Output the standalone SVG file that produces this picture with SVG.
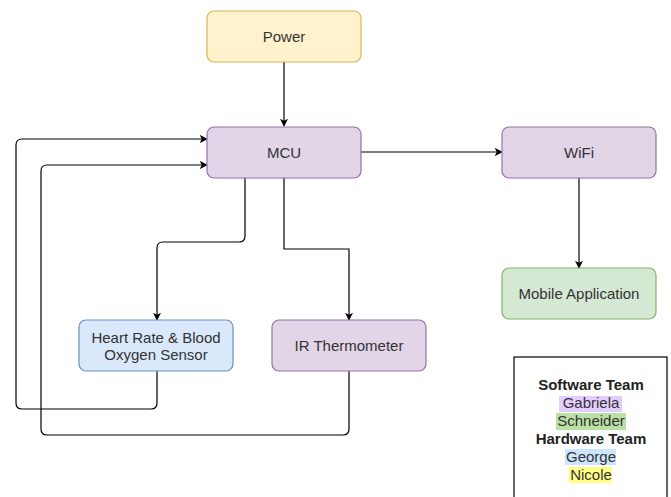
<svg xmlns="http://www.w3.org/2000/svg" width="671" height="497" viewBox="0 0 671 497">
  <style>
    .node rect { stroke-width: 1.2; }
    .yellow { fill: #fff2cc; stroke: #d6b656; }
    .purple { fill: #e1d5e7; stroke: #9673a6; }
    .blue { fill: #dae8fc; stroke: #6c8ebf; }
    .green { fill: #d5e8d4; stroke: #82b366; }
    text { font-family: "Liberation Sans", Arial, sans-serif; font-size: 15px; fill: #333333; text-anchor: middle; }
    .edge { fill: none; stroke: #000000; stroke-width: 1.2; marker-end: url(#arrow); }
    .legend-title { font-weight: bold; fill: #222222; }
  </style>
  <defs>
    <marker id="arrow" viewBox="0 0 10 10" refX="9" refY="5" markerWidth="8" markerHeight="8" markerUnits="userSpaceOnUse" orient="auto">
      <path d="M0,0 L10,5 L0,10 L2.5,5 Z" fill="#000000"/>
    </marker>
  </defs>

  <rect width="671" height="497" fill="#ffffff"/>

  <g id="connectors">
    <path class="edge" d="M284,62 V126"/>
    <path class="edge" d="M361,152 H502"/>
    <path class="edge" d="M579,178 V268"/>
    <path class="edge" d="M245,178 V236 Q245,242 239,242 H163 Q157,242 157,248 V320"/>
    <path class="edge" d="M284,178 V249 H349 V320"/>
    <path class="edge" d="M157,371 V403 Q157,409 151,409 H22 Q16,409 16,403 V145 Q16,139 22,139 H207"/>
    <path class="edge" d="M349,371 V429 Q349,435 343,435 H47 Q41,435 41,429 V171 Q41,165 47,165 H207"/>
  </g>

  <g id="power" class="node">
    <rect class="yellow" x="207" y="11" width="154" height="51" rx="7"/>
    <text x="284" y="42">Power</text>
  </g>

  <g id="mcu" class="node">
    <rect class="purple" x="207" y="127" width="154" height="51" rx="7"/>
    <text x="284" y="158">MCU</text>
  </g>

  <g id="wifi" class="node">
    <rect class="purple" x="502" y="127" width="154" height="51" rx="7"/>
    <text x="579" y="158">WiFi</text>
  </g>

  <g id="mobile-app" class="node">
    <rect class="green" x="502" y="268" width="154" height="51" rx="7"/>
    <text x="579" y="299">Mobile Application</text>
  </g>

  <g id="heart-rate-sensor" class="node">
    <rect class="blue" x="79" y="320" width="154" height="51" rx="7"/>
    <text x="156" y="343">Heart Rate &amp; Blood</text>
    <text x="156" y="360">Oxygen Sensor</text>
  </g>

  <g id="ir-thermometer" class="node">
    <rect class="purple" x="272" y="320" width="154" height="51" rx="7"/>
    <text x="349" y="351">IR Thermometer</text>
  </g>

  <g id="legend">
    <rect x="514" y="357" width="153" height="145" fill="#ffffff" stroke="#000000" stroke-width="1.2"/>
    <rect x="559" y="396" width="63" height="16" fill="#e5ccff"/>
    <rect x="556" y="413" width="70" height="17" fill="#b9e0a5"/>
    <rect x="565" y="449" width="51" height="16" fill="#cce5ff"/>
    <rect x="569" y="467" width="43" height="16" fill="#ffff88"/>
    <text class="legend-title" x="591" y="390">Software Team</text>
    <text x="591" y="408">Gabriela</text>
    <text x="591" y="426">Schneider</text>
    <text class="legend-title" x="591" y="444">Hardware Team</text>
    <text x="591" y="462">George</text>
    <text x="591" y="480">Nicole</text>
  </g>
</svg>
